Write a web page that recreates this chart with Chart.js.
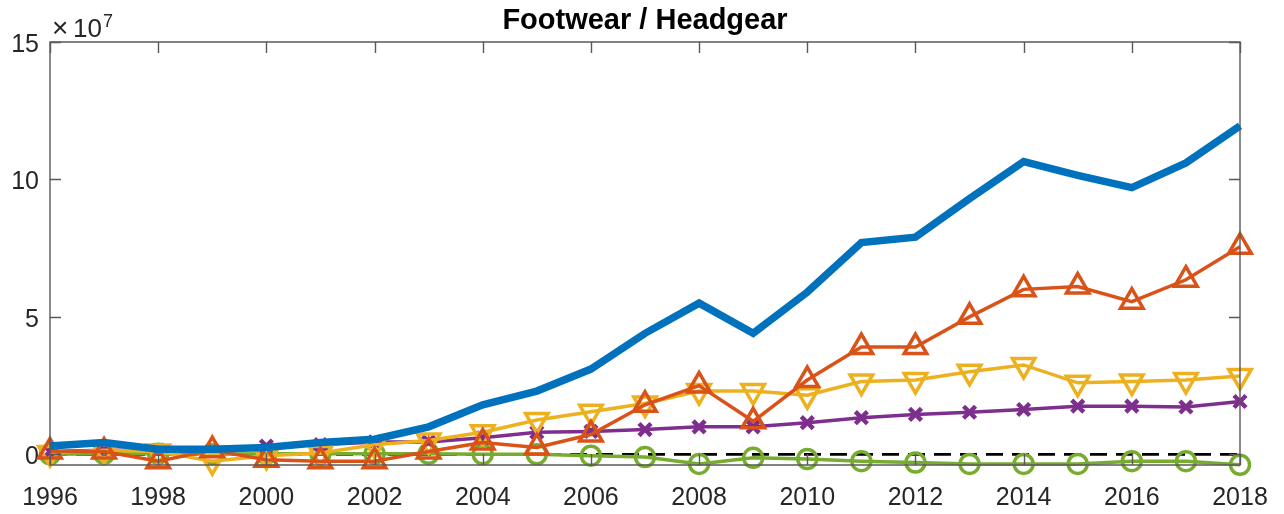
<!DOCTYPE html>
<html>
<head>
<meta charset="utf-8">
<script src="https://cdn.jsdelivr.net/npm/chart.js@4/dist/chart.umd.min.js"></script>
<style>
html,body{margin:0;padding:0;background:#fff;}
#wrap{width:1284px;height:514px;position:relative;}
</style>
</head>
<body>
<div id="wrap"><canvas id="c" width="1284" height="514"></canvas></div>
<script>
// Values in units of 1e7
const years = [1996,1997,1998,1999,2000,2001,2002,2003,2004,2005,2006,2007,2008,2009,2010,2011,2012,2013,2014,2015,2016,2017,2018];
const seriesBlue   = [0.30,0.43,0.18,0.18,0.25,0.43,0.55,1.00,1.80,2.30,3.10,4.40,5.50,4.40,5.90,7.70,7.90,9.30,10.65,10.15,9.70,10.60,11.95];
const seriesOrange = [0.10,0.10,-0.25,0.15,-0.20,-0.25,-0.25,0.10,0.43,0.25,0.72,1.80,2.50,1.20,2.70,3.90,3.90,5.00,6.00,6.10,5.55,6.35,7.55];
const seriesYellow = [0.05,0.15,0.10,-0.25,-0.05,0.05,0.35,0.50,0.80,1.25,1.55,1.85,2.30,2.30,2.15,2.65,2.70,3.00,3.25,2.60,2.65,2.70,2.85];
const seriesPurple = [0.10,0.15,0.15,0.15,0.30,0.35,0.45,0.45,0.60,0.80,0.83,0.90,1.00,1.00,1.15,1.33,1.45,1.53,1.63,1.75,1.75,1.72,1.92];
const seriesGreen  = [0.00,0.02,0.02,0.00,0.02,0.02,0.02,0.02,0.00,0.00,-0.05,-0.10,-0.35,-0.13,-0.17,-0.25,-0.30,-0.35,-0.35,-0.35,-0.25,-0.25,-0.38];
const zeroLine = [0,0];
const zeroYears = [1996,2018];
const yTicks = [0,5,10,15];
const xTicks = [1996,1998,2000,2002,2004,2006,2008,2010,2012,2014,2016,2018];
const titleText = 'Footwear / Headgear';

const FONT = '"Liberation Sans", Arial, Helvetica, sans-serif';
const pts = (arr) => arr.map((v,i)=>({x:years[i], y:v}));
const none = 'rgba(0,0,0,0)';

const boxPlugin = {
  id:'box',
  afterDatasetsDraw(chart){
    const {ctx, chartArea:a, scales:{x,y}} = chart;
    ctx.save();
    ctx.strokeStyle = '#595959';
    ctx.lineWidth = 1.4;
    ctx.beginPath();
    ctx.rect(a.left, a.top, a.right-a.left, a.bottom-a.top);
    ctx.stroke();
    const L = 11;
    ctx.beginPath();
    xTicks.forEach(v=>{
      const px = Math.round(x.getPixelForValue(v))+0.5;
      ctx.moveTo(px,a.bottom); ctx.lineTo(px,a.bottom-L);
      ctx.moveTo(px,a.top); ctx.lineTo(px,a.top+L);
    });
    yTicks.forEach(v=>{
      const py = Math.round(y.getPixelForValue(v))+0.5;
      ctx.moveTo(a.left,py); ctx.lineTo(a.left+L,py);
      ctx.moveTo(a.right,py); ctx.lineTo(a.right-L,py);
    });
    ctx.stroke();
    // exponent label
    ctx.fillStyle = '#262626';
    ctx.textBaseline = 'alphabetic';
    ctx.textAlign = 'left';
    ctx.font = '28px ' + FONT;
    ctx.fillText('\u00d7', a.left+2, a.top-5);
    ctx.font = '26px ' + FONT;
    ctx.fillText('10', a.left+23, a.top-5);
    ctx.font = '18px ' + FONT;
    ctx.fillText('7', a.left+53, a.top-15);
    // title
    ctx.fillStyle = '#000';
    ctx.font = 'bold 29px ' + FONT;
    ctx.textAlign = 'center';
    ctx.fillText(titleText, (a.left+a.right)/2, 29);
    ctx.restore();
  }
};

new Chart(document.getElementById('c'), {
  type:'line',
  data:{
    datasets:[
      {data:pts(seriesBlue), borderColor:'#0072BD', borderWidth:7.5, pointRadius:0, tension:0},
      {data:pts(seriesOrange), borderColor:'#D95319', borderWidth:3.5, pointStyle:'triangle', pointRadius:13, pointBorderWidth:3.5, pointBorderColor:'#D95319', pointBackgroundColor:none, tension:0},
      {data:pts(seriesYellow), borderColor:'#EDB120', borderWidth:3.5, pointStyle:'triangle', pointRotation:180, pointRadius:13, pointBorderWidth:3.5, pointBorderColor:'#EDB120', pointBackgroundColor:none, tension:0},
      {data:pts(seriesPurple), borderColor:'#7E2F8E', borderWidth:3.5, pointStyle:'crossRot', pointRadius:8.5, pointBorderWidth:4.5, pointBorderColor:'#7E2F8E', pointBackgroundColor:none, tension:0},
      {data:pts(seriesGreen), borderColor:'#77AC30', borderWidth:3.5, pointStyle:'circle', pointRadius:9.5, pointBorderWidth:3.5, pointBorderColor:'#77AC30', pointBackgroundColor:none, tension:0},
      {data:zeroYears.map((yr,i)=>({x:yr,y:zeroLine[i]})), borderColor:'#000', borderWidth:2.8, borderDash:[17,9], pointRadius:0, tension:0}
    ]
  },
  options:{
    responsive:false,
    animation:false,
    clip:false,
    layout:{padding:{top:42,right:44,left:0,bottom:0}},
    plugins:{legend:{display:false}, tooltip:{enabled:false}, title:{display:false}},
    scales:{
      x:{
        type:'linear', min:1996, max:2018,
        grid:{display:false, drawTicks:false}, border:{display:false},
        afterBuildTicks:(s)=>{ s.ticks = xTicks.map(v=>({value:v})); },
        afterFit:(s)=>{ s.height = 49; s.paddingLeft = 0; s.paddingRight = 0; },
        ticks:{color:'#262626', font:{family:FONT, size:25}, padding:18, maxRotation:0, autoSkip:false,
          callback:(v)=>String(v)}
      },
      y:{
        type:'linear', min:-0.39, max:15,
        grid:{display:false, drawTicks:false}, border:{display:false},
        afterBuildTicks:(s)=>{ s.ticks = yTicks.map(v=>({value:v})); },
        afterFit:(s)=>{ s.width = 50; s.paddingTop = 0; s.paddingBottom = 0; },
        ticks:{color:'#262626', font:{family:FONT, size:25}, padding:11, labelOffset:3,
          callback:(v)=>String(v)}
      }
    }
  },
  plugins:[boxPlugin]
});
</script>
</body>
</html>
